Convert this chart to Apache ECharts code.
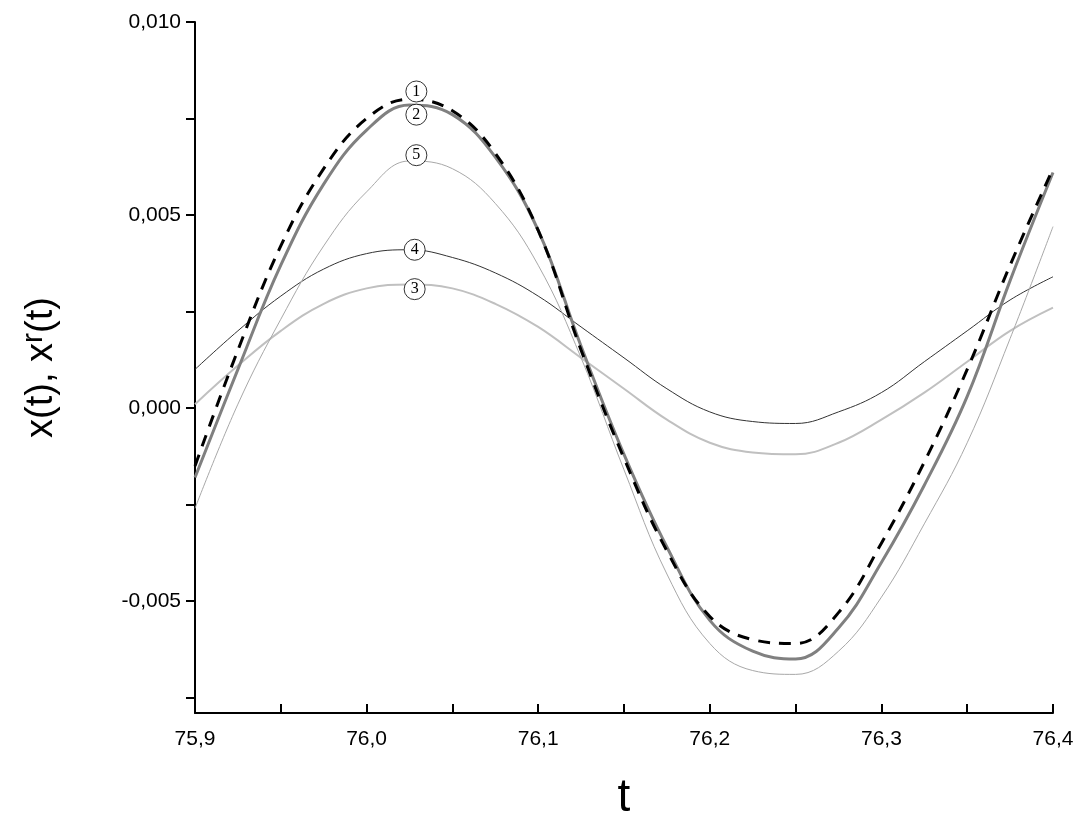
<!DOCTYPE html>
<html>
<head>
<meta charset="utf-8">
<script src="https://cdn.jsdelivr.net/npm/echarts@6/dist/echarts.min.js"></script>
<style>html,body{margin:0;padding:0;background:#fff}#chart{width:1082px;height:834px}</style>
</head>
<body>
<div id="chart"></div>
<script>
// time grid
var t = [75.900, 75.925, 75.950, 75.975, 76.000, 76.025, 76.050, 76.075, 76.100, 76.125, 76.150,
         76.175, 76.200, 76.225, 76.250, 76.275, 76.300, 76.325, 76.350, 76.375, 76.400];

// curves
var curve1 = [-0.0015, 0.0015, 0.0042, 0.0062, 0.0075, 0.0080, 0.0077, 0.0066, 0.0046, 0.0015, -0.0013,
              -0.0037, -0.0054, -0.0060, -0.0061, -0.0053, -0.0035, -0.0014, 0.0010, 0.0037, 0.0062];
var curve2 = [-0.0018, 0.0010, 0.0037, 0.0058, 0.0072, 0.00785, 0.0076, 0.0065, 0.0046, 0.0016, -0.0012,
              -0.0036, -0.0055, -0.0063, -0.0065, -0.0057, -0.0040, -0.0020, 0.0003, 0.0033, 0.0061];
var curve3 = [0.0001, 0.0011, 0.0020, 0.0027, 0.0031, 0.0032, 0.0031, 0.0027, 0.0021, 0.0013, 0.0005,
              -0.0003, -0.0009, -0.00115, -0.0012, -0.0009, -0.0003, 0.0004, 0.0012, 0.0020, 0.0026];
var curve4 = [0.0010, 0.0020, 0.0029, 0.0036, 0.0040, 0.0041, 0.0039, 0.0035, 0.0029, 0.0021, 0.0013,
              0.0005, -0.0001, -0.00035, -0.0004, -0.0001, 0.0004, 0.0012, 0.0020, 0.0028, 0.0034];
var curve5 = [-0.0026, 0.0001, 0.0023, 0.0042, 0.0056, 0.0064, 0.0062, 0.0053, 0.0037, 0.0013, -0.0016,
              -0.0043, -0.0061, -0.0068, -0.0069, -0.0063, -0.0049, -0.0030, -0.0009, 0.0018, 0.0047];

// circled labels: [label, t, value]
var marks1 = ['1', 76.029, 0.0082];
var marks2 = ['2', 76.029, 0.0076];
var marks3 = ['3', 76.028, 0.00308];
var marks4 = ['4', 76.028, 0.0041];
var marks5 = ['5', 76.029, 0.00655];

var xTicks = [75.9, 75.95, 76.0, 76.05, 76.1, 76.15, 76.2, 76.25, 76.3, 76.35, 76.4];
var xLabels = [75.9, 76.0, 76.1, 76.2, 76.3, 76.4];
var yTicks = [-0.0075, -0.005, -0.0025, 0, 0.0025, 0.005, 0.0075, 0.01];
var yLabels = [-0.005, 0, 0.005, 0.01];

function pairs(ys) {
  return t.map(function (x, i) { return [x, ys[i]]; });
}

function circleMark(m) {
  return {
    symbol: 'circle',
    symbolSize: 21,
    silent: true,
    itemStyle: { color: '#fff', borderColor: '#000', borderWidth: 0.8 },
    label: { show: true, position: 'inside', color: '#000', fontFamily: 'Liberation Serif', fontSize: 16 },
    data: [{ coord: [m[1], m[2]], value: m[0] }]
  };
}

function line(name, ys, color, width, type, mark, z) {
  return {
    name: name, type: 'line', data: pairs(ys), smooth: 0.4, symbol: 'none', z: z,
    lineStyle: { color: color, width: width, type: type },
    markPoint: circleMark(mark)
  };
}

var chart = echarts.init(document.getElementById('chart'));
chart.setOption({
  backgroundColor: '#fff',
  animation: false,
  grid: { left: 195, right: 29, top: 22, bottom: 121 },
  xAxis: {
    type: 'value', min: 75.9, max: 76.4,
    name: 't', nameLocation: 'middle', nameGap: 62,
    nameTextStyle: { fontFamily: 'Liberation Sans', fontSize: 46, color: '#000' },
    axisLine: { onZero: false, lineStyle: { color: '#000', width: 2 } },
    axisTick: { inside: true, length: 9, customValues: xTicks, lineStyle: { color: '#000', width: 2 } },
    axisLabel: { customValues: xLabels, color: '#000', fontFamily: 'Liberation Sans', fontSize: 21, margin: 16,
      formatter: function (v) { return v.toFixed(1).replace('.', ','); } },
    splitLine: { show: false }
  },
  yAxis: {
    type: 'value', min: -0.0079, max: 0.010,
    name: '{a|x(t), x}{s|r}{a|(t)}', nameLocation: 'middle', nameGap: 130, nameRotate: 90,
    nameTextStyle: { rich: {
      a: { fontFamily: 'Liberation Sans', fontSize: 38, color: '#000' },
      s: { fontFamily: 'Liberation Sans', fontSize: 30, color: '#000', verticalAlign: 'top', padding: [0, 0, 16, 0] }
    } },
    axisLine: { show: true, onZero: false, lineStyle: { color: '#000', width: 2 } },
    axisTick: { show: true, length: 9, customValues: yTicks, lineStyle: { color: '#000', width: 2 } },
    axisLabel: { customValues: yLabels, color: '#000', fontFamily: 'Liberation Sans', fontSize: 21, margin: 14,
      formatter: function (v) { return v.toFixed(3).replace('.', ','); } },
    splitLine: { show: false }
  },
  series: [
    line('4', curve4, '#333', 1, 'solid', marks4, 2),
    line('3', curve3, '#c0c0c0', 2, 'solid', marks3, 2),
    line('5', curve5, '#a8a8a8', 1, 'solid', marks5, 2),
    line('2', curve2, '#808080', 3, 'solid', marks2, 3),
    line('1', curve1, '#000', 3, [12, 9], marks1, 4)
  ]
});
</script>
</body>
</html>
